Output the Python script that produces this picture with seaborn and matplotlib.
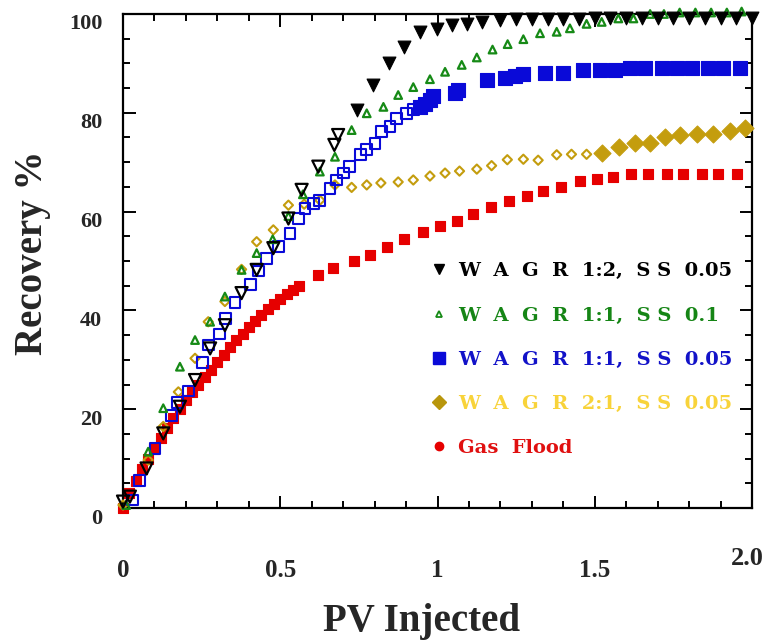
import matplotlib
matplotlib.use("Agg")
import matplotlib.pyplot as plt
import matplotlib.transforms as mtransforms
from matplotlib.lines import Line2D
from matplotlib.ticker import MultipleLocator
import seaborn as sns
import pandas as pd

# ---------------- data ----------------
# WAG R 1:2, SS 0.05 (black down-triangles; open early, filled later)
b_open_x = [0.0, 0.022, 0.075, 0.128, 0.181, 0.229, 0.277, 0.324, 0.377, 0.425, 0.478,
            0.526, 0.568, 0.621, 0.672, 0.684]
b_open_y = [1.3, 2.3, 8.0, 15.1, 20.5, 25.9, 32.3, 37.0, 43.5, 48.2, 52.6,
            58.6, 64.4, 69.1, 73.5, 75.5]
b_fill_x = [0.743, 0.794, 0.847, 0.893, 0.944, 0.997, 1.045, 1.093, 1.14, 1.2, 1.25,
            1.3, 1.35, 1.4, 1.45, 1.5, 1.55, 1.6, 1.65, 1.7, 1.75, 1.8, 1.85, 1.9, 1.95, 2.0]
b_fill_y = [80.6, 85.6, 90.0, 93.4, 96.4, 97.0, 97.8, 97.9, 98.4, 98.8, 99.0,
            99.0, 99.0, 99.0, 99.0, 99.1, 99.1, 99.1, 99.1, 99.1, 99.1, 99.1, 99.1, 99.1, 99.1, 99.1]

# WAG R 1:1, SS 0.1 (green up-triangles)
g_x = [0.01, 0.08, 0.128, 0.181, 0.229, 0.277, 0.324, 0.377, 0.425, 0.476, 0.526, 0.572,
       0.626, 0.674, 0.727, 0.775, 0.828, 0.875, 0.923, 0.976, 1.024, 1.077, 1.125, 1.175,
       1.223, 1.273, 1.326, 1.379, 1.421, 1.474, 1.522, 1.575, 1.623, 1.676, 1.72, 1.77,
       1.82, 1.87, 1.92, 1.967]
g_y = [0.6, 11.4, 20.2, 28.6, 34.0, 37.7, 42.8, 48.2, 51.6, 54.4, 59.1, 63.5,
       68.1, 71.1, 76.5, 79.9, 81.2, 83.6, 85.2, 86.8, 88.3, 89.7, 91.2, 92.8,
       93.9, 94.9, 96.1, 96.4, 97.1, 98.0, 98.4, 99.1, 99.1, 100.0, 100.0, 100.3,
       100.3, 100.3, 100.3, 100.5]

# WAG R 1:1, SS 0.05 (blue squares; open early, filled later)
u_open_x = [0.03, 0.052, 0.102, 0.155, 0.173, 0.208, 0.253, 0.271, 0.306, 0.327, 0.356,
            0.405, 0.43, 0.457, 0.494, 0.531, 0.558, 0.579, 0.605, 0.626, 0.658, 0.679,
            0.700, 0.720, 0.754, 0.775, 0.801, 0.823, 0.849, 0.870, 0.902, 0.923]
u_open_y = [1.6, 5.5, 12.1, 18.8, 21.3, 23.7, 29.4, 33.0, 35.2, 38.4, 41.6,
            45.3, 48.0, 50.5, 52.9, 55.6, 58.6, 60.7, 61.7, 62.3, 64.7, 66.4,
            67.8, 69.1, 71.5, 72.5, 73.8, 76.2, 77.2, 78.9, 79.9, 80.6]
u_fill_x = [0.944, 0.96, 0.975, 0.987, 1.056, 1.065, 1.156, 1.215, 1.246, 1.273, 1.342,
            1.40, 1.464, 1.517, 1.564, 1.612, 1.66, 1.713, 1.76, 1.808, 1.86, 1.908, 1.962]
u_fill_y = [81.2, 81.8, 82.5, 83.3, 84.0, 84.6, 86.6, 87.0, 87.4, 87.9, 88.1,
            88.1, 88.7, 88.7, 88.7, 89.0, 89.0, 89.0, 89.0, 89.0, 89.0, 89.0, 89.0]

# WAG R 2:1, SS 0.05 (gold diamonds; open early, filled later)
y_open_x = [0.0, 0.08, 0.128, 0.176, 0.229, 0.271, 0.324, 0.377, 0.425, 0.478, 0.526,
            0.576, 0.626, 0.674, 0.727, 0.775, 0.82, 0.875, 0.923, 0.976, 1.024, 1.07,
            1.125, 1.172, 1.222, 1.273, 1.32, 1.379, 1.426, 1.474]
y_open_y = [0.6, 9.7, 16.5, 23.5, 30.3, 37.7, 41.8, 48.3, 53.9, 56.3, 61.3,
            61.5, 62.3, 65.4, 64.9, 65.4, 65.8, 66.0, 66.4, 67.2, 67.8, 68.2,
            68.6, 69.3, 70.5, 70.6, 70.4, 71.5, 71.6, 71.6]
y_fill_x = [1.522, 1.578, 1.628, 1.676, 1.723, 1.771, 1.824, 1.877, 1.93, 1.978]
y_fill_y = [71.9, 73.1, 73.8, 73.8, 75.0, 75.5, 75.8, 75.8, 76.4, 77.0]

# Gas Flood (red)
r_x = [0.0, 0.02, 0.04, 0.06, 0.08, 0.10, 0.12, 0.14, 0.16, 0.18, 0.20, 0.22, 0.24,
       0.26, 0.28, 0.30, 0.32, 0.34, 0.36, 0.38, 0.40, 0.42, 0.44, 0.46, 0.48, 0.50,
       0.52, 0.54, 0.56,
       0.621, 0.669, 0.733, 0.785, 0.84, 0.893, 0.955, 1.008, 1.061, 1.114, 1.169,
       1.228, 1.284, 1.336, 1.394, 1.453, 1.506, 1.559, 1.614, 1.67, 1.729, 1.782,
       1.84, 1.893, 1.951]
r_y = [0.0, 3.0, 5.5, 7.8, 10.0, 12.0, 14.2, 16.2, 18.2, 20.1, 21.8, 23.5, 25.0,
       26.5, 28.0, 29.5, 31.0, 32.5, 34.0, 35.3, 36.6, 37.8, 39.0, 40.2, 41.3, 42.3,
       43.3, 44.2, 45.0,
       47.2, 48.5, 49.9, 51.2, 52.9, 54.5, 55.9, 57.0, 58.0, 59.5, 61.0,
       62.2, 63.2, 64.1, 65.0, 66.2, 66.6, 67.1, 67.6, 67.6, 67.6, 67.6,
       67.6, 67.6, 67.6]

labels = ["W  A  G  R  1:2,  S S  0.05", "W  A  G  R  1:1,  S S  0.1",
          "W  A  G  R  1:1,  S S  0.05", "W  A  G  R  2:1,  S S  0.05", "Gas  Flood"]
x_ticks = [0, 0.5, 1, 1.5, 2.0]
x_tick_labels = ["0", "0.5", "1", "1.5", "2.0"]
y_ticks = [0, 20, 40, 60, 80, 100]

# ---------------- style ----------------
sns.set_theme(style="ticks")
plt.rcParams["font.family"] = ["Liberation Serif", "DejaVu Serif"]
plt.rcParams["font.weight"] = "bold"

C_BLACK = "#000000"
C_GREEN = "#168a16"
C_BLUE = "#0a0ad8"
C_GOLD = "#c49d0e"
C_RED = "#e60000"
LAB_COLORS = ["#000000", "#158515", "#1212c8", "#f8d33a", "#e01010"]

fig = plt.figure(figsize=(7.67, 6.42), dpi=100)
ax = fig.add_axes([123 / 767, 1 - 508 / 642, 629 / 767, 494 / 642])

def scat(x, y, marker, s, col, filled, lw=1.4, z=3):
    df = pd.DataFrame({"x": x, "y": y})
    if filled:
        sns.scatterplot(data=df, x="x", y="y", ax=ax, marker=marker, s=s, color=col,
                        edgecolor=col, linewidth=0.8, zorder=z, clip_on=False, legend=False)
    else:
        sns.scatterplot(data=df, x="x", y="y", ax=ax, marker=marker, s=s, color=col,
                        facecolor="none", edgecolor=col, linewidth=lw, zorder=z,
                        clip_on=False, legend=False)

scat(r_x, r_y, "s", 60, C_RED, True, z=2)
scat(y_open_x, y_open_y, "D", 22, C_GOLD, False, lw=1.5, z=3)
scat(y_fill_x, y_fill_y, "D", 75, C_GOLD, True, z=3)
scat(u_open_x, u_open_y, "s", 60, C_BLUE, False, lw=1.5, z=4)
scat(u_fill_x, u_fill_y, "s", 95, C_BLUE, True, z=4)
scat(g_x, g_y, "^", 30, C_GREEN, False, lw=1.6, z=5)
scat(b_open_x, b_open_y, "v", 75, C_BLACK, False, lw=1.6, z=6)
scat(b_fill_x, b_fill_y, "v", 85, C_BLACK, True, z=6)

ax.set_xlim(0, 2)
ax.set_ylim(0, 100)
ax.set_xticks(x_ticks)
ax.set_xticklabels(x_tick_labels)
ax.set_yticks(y_ticks)
ax.xaxis.set_minor_locator(MultipleLocator(0.1))
ax.yaxis.set_minor_locator(MultipleLocator(5))
for sp in ax.spines.values():
    sp.set_linewidth(1.6)
    sp.set_color("black")
    sp.set_visible(True)
ax.tick_params(which="both", direction="in", top=True, right=True, width=1.4, color="black")
ax.tick_params(which="major", length=9)
ax.tick_params(which="minor", length=5)
ax.tick_params(axis="x", which="major", pad=37, labelsize=18)
ax.tick_params(axis="y", which="major", pad=15, labelsize=16)
for lab in ax.get_xticklabels() + ax.get_yticklabels():
    lab.set_fontweight("bold")

ax.set_xlabel("PV Injected", fontsize=28, fontweight="bold")
ax.set_ylabel("Recovery %", fontsize=28, fontweight="bold")
ax.xaxis.set_label_coords(0.474, -0.192)
ax.yaxis.set_label_coords(-0.114, 0.517)

# legend
handles = [
    Line2D([], [], linestyle="none", marker="v", markersize=7, color=C_BLACK),
    Line2D([], [], linestyle="none", marker="^", markersize=5, markerfacecolor="none",
           markeredgecolor=C_GREEN, markeredgewidth=1.3),
    Line2D([], [], linestyle="none", marker="s", markersize=8, color=C_BLUE),
    Line2D([], [], linestyle="none", marker="D", markersize=7, color="#b8960c"),
    Line2D([], [], linestyle="none", marker="o", markersize=6, color=C_RED),
]
leg = ax.legend(handles, labels, loc="center left", bbox_to_anchor=(0.472, 0.30),
                frameon=False, borderpad=0, handlelength=1.0, handletextpad=0.45,
                labelspacing=1.35, labelcolor=LAB_COLORS,
                prop={"family": ["DejaVu Serif"], "weight": "bold", "size": 14})

fig.canvas.draw()
down = mtransforms.ScaledTranslation(0, -0.08, fig.dpi_scale_trans)
for lab in ax.get_yticklabels():
    lab.set_transform(lab.get_transform() + down)
xl = ax.get_xticklabels()
up = mtransforms.ScaledTranslation(-0.05, 0.12, fig.dpi_scale_trans)
xl[-1].set_transform(xl[-1].get_transform() + up)
xl[-1].set_fontsize(19)

fig.savefig("out.png", dpi=100)
